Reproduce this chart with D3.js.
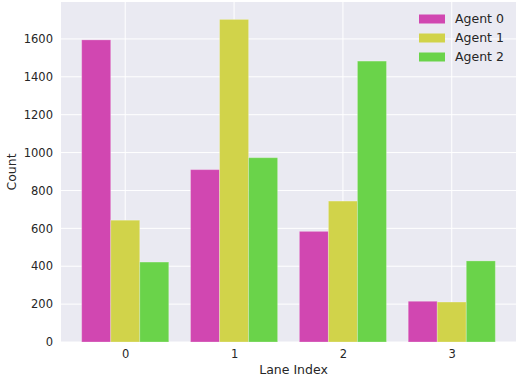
<!DOCTYPE html>
<html><head><meta charset="utf-8">
<script src="https://cdn.jsdelivr.net/npm/d3@7"></script>
<style>body{margin:0;background:#fff;} svg{display:block;}</style>
</head><body>
<svg id="c" width="516" height="377"></svg>
<script>
const lanes = ["0", "1", "2", "3"];
const agents = ["Agent 0", "Agent 1", "Agent 2"];
const agent0 = [1595, 910, 584, 215];
const agent1 = [643, 1703, 744, 211];
const agent2 = [422, 973, 1483, 428];
const series = [agent0, agent1, agent2];
const colors = ["#D147B1", "#D1D34A", "#6AD34A"];
const yTicks = [0, 200, 400, 600, 800, 1000, 1200, 1400, 1600];

const svg = d3.select("#c");
const L = 61, R = 516, T = 2, B = 342;
const font = "'DejaVu Sans', sans-serif";

const x = d3.scaleLinear().domain([-0.59, 3.59]).range([L, R]);
const y = d3.scaleLinear().domain([0, 1795]).range([B, T]);

svg.append("rect").attr("x", L).attr("y", T).attr("width", R - L).attr("height", B - T).attr("fill", "#EAEAF2");

// grid
svg.append("g").selectAll("line").data(yTicks).join("line")
  .attr("x1", L).attr("x2", R).attr("y1", d => y(d)).attr("y2", d => y(d))
  .attr("stroke", "#fff").attr("stroke-width", 1);
svg.append("g").selectAll("line").data(lanes).join("line")
  .attr("y1", T).attr("y2", B).attr("x1", (d, i) => x(i)).attr("x2", (d, i) => x(i))
  .attr("stroke", "#fff").attr("stroke-width", 1);

// bars
const groupW = 0.8, bw = groupW / agents.length;
series.forEach((vals, a) => {
  svg.append("g").selectAll("rect").data(vals).join("rect")
    .attr("x", (d, i) => x(i - groupW / 2 + a * bw))
    .attr("width", x(bw) - x(0))
    .attr("y", d => y(d))
    .attr("height", d => y(0) - y(d))
    .attr("fill", colors[a])
    .attr("stroke", "rgba(255,255,255,0.25)").attr("stroke-width", 1);
});

// axes
const yAxis = d3.axisLeft(y).tickValues(yTicks).tickFormat(d3.format("d")).tickSize(0).tickPadding(8);
const gy = svg.append("g").attr("transform", `translate(${L},0)`).call(yAxis);
gy.select(".domain").remove();
gy.selectAll("text").attr("font-family", font).attr("font-size", 11.5).attr("fill", "#262626");

const xAxis = d3.axisBottom(x).tickValues([0, 1, 2, 3]).tickFormat((d, i) => lanes[i]).tickSize(0).tickPadding(8);
const gx = svg.append("g").attr("transform", `translate(0,${B})`).call(xAxis);
gx.select(".domain").remove();
gx.selectAll("text").attr("font-family", font).attr("font-size", 11.5).attr("fill", "#262626");

svg.append("text").attr("x", (L + R) / 2 + 5).attr("y", 374).attr("text-anchor", "middle")
  .attr("font-family", font).attr("font-size", 12.5).attr("fill", "#262626").text("Lane Index");
svg.append("text").attr("transform", `translate(16,${(T + B) / 2}) rotate(-90)`).attr("text-anchor", "middle")
  .attr("font-family", font).attr("font-size", 12.5).attr("fill", "#262626").text("Count");

// legend
const lg = svg.append("g");
agents.forEach((a, i) => {
  const yy = 19 + i * 19;
  lg.append("rect").attr("x", 419).attr("y", yy - 4.5).attr("width", 26).attr("height", 9).attr("fill", colors[i]);
  lg.append("text").attr("x", 455).attr("y", yy).attr("dy", "0.35em")
    .attr("font-family", font).attr("font-size", 12.5).attr("fill", "#262626").text(a);
});
</script>
</body></html>
